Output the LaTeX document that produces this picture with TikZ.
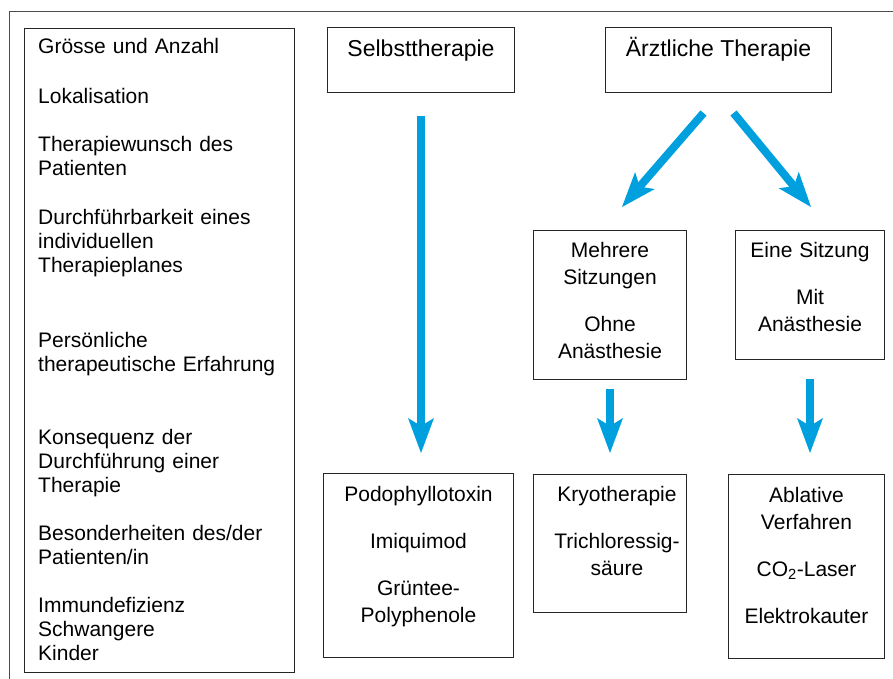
\documentclass[tikz,border=0pt]{standalone}
\usepackage{fontspec}
\setmainfont{Liberation Sans}
\usetikzlibrary{arrows.meta,calc}
\definecolor{flowblue}{RGB}{0,160,223}

\begin{document}
\begin{tikzpicture}[x=1pt,y=-1pt,
  box/.style={draw=black!85,line width=1pt,inner sep=0pt,anchor=north west},
  crit/.style={anchor=base west,inner sep=0pt,text width=250pt,align=left,font=\fontsize{21}{24}\selectfont},
  btext/.style={anchor=base,inner sep=0pt,text width=160pt,align=center,font=\fontsize{21}{27}\selectfont},
  headtxt/.style={anchor=base,inner sep=0pt,font=\fontsize{23}{27}\selectfont},
  flow/.style={draw=flowblue,line width=8pt,-{Stealth[length=35pt,width=26pt,inset=8pt,line width=0pt]}}]
  \useasboundingbox (0,0) rectangle (893,679);

  % outer frame
  \draw[black!70,line width=1pt] (9,679) -- (9,12) -- (893,12);

  % boxes
  \node[box,minimum width=270pt,minimum height=644pt] (crit) at (24,28) {};
  \node[box,minimum width=187pt,minimum height=65pt] (selbst) at (327,27) {};
  \node[box,minimum width=226pt,minimum height=65pt] (arzt) at (605,27) {};
  \node[box,minimum width=153pt,minimum height=149pt] (mehrere) at (533,230) {};
  \node[box,minimum width=149pt,minimum height=129pt] (eine) at (735,230) {};
  \node[box,minimum width=190pt,minimum height=184pt] (podo) at (323,473) {};
  \node[box,minimum width=153pt,minimum height=138pt] (kryo) at (533,474) {};
  \node[box,minimum width=156pt,minimum height=184pt] (ablat) at (728,474) {};

  % criteria list
  \foreach \y/\txt [count=\i] in {54/{Grösse und Anzahl}, 104/{Lokalisation},
      152/{Therapiewunsch des\\Patienten},
      224/{Durchführbarkeit eines\\individuellen\\Therapieplanes},
      347/{Persönliche\\therapeutische Erfahrung},
      444/{Konsequenz der\\Durchführung einer\\Therapie},
      540/{Besonderheiten des/der\\Patienten/in},
      612/{Immundefizienz\\Schwangere\\Kinder}}
    \node[crit] (item\i) at (38,\y) {\txt};

  % box texts
  \node[headtxt] (selbsttxt) at ($(selbst.north)+(0,30)$) {Selbsttherapie};
  \node[headtxt] (arzttxt) at ($(arzt.north)+(0,30)$) {Ärztliche Therapie};
  \node[btext] (mehreretxt) at ($(mehrere.north)+(0,27)$) {Mehrere\\Sitzungen\\[20pt]Ohne\\Anästhesie};
  \node[btext] (einetxt) at ($(eine.north)+(0,27)$) {Eine Sitzung\\[20pt]Mit\\Anästhesie};
  \node[btext] (podotxt) at ($(podo.north)+(0,28)$) {Podophyllotoxin\\[20pt]Imiquimod\\[20pt]Grüntee-\\Polyphenole};
  \node[btext] (kryotxt) at ($(kryo.north)+(7,27)$) {Kryotherapie\\[20pt]Trichloressig-\\säure};
  \node[btext] (ablattxt) at ($(ablat.north)+(0,28)$) {Ablative\\Verfahren\\[20pt]CO\textsubscript{2}-Laser\\[20pt]Elektrokauter};

  % arrows
  \draw[flow,shorten <=23pt,shorten >=20pt] (selbst.south) -- (selbst.south |- podo.north);
  \draw[flow] ($(arzt.south)+(-15,20)$) -- ($(mehrere.north)+(12,-23)$);
  \draw[flow] ($(arzt.south)+(15,20)$) -- ($(eine.north)+(1,-23)$);
  \draw[flow,shorten <=9pt,shorten >=21pt] (mehrere.south) -- (mehrere.south |- kryo.north);
  \draw[flow,shorten <=19pt,shorten >=21pt] (eine.south) -- (eine.south |- ablat.north);
\end{tikzpicture}
\end{document}
